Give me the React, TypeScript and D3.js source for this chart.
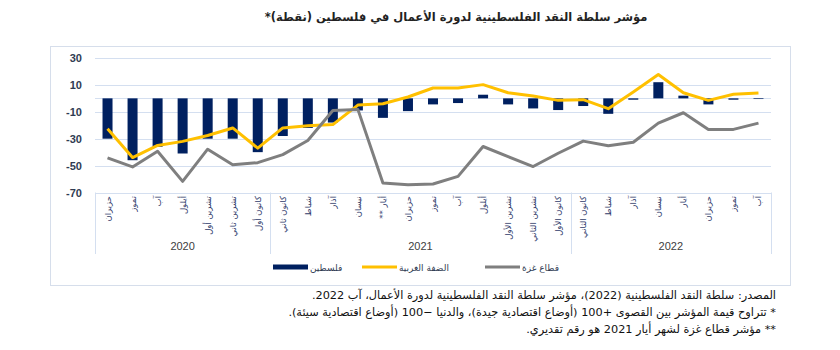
import React, { useRef, useEffect } from 'react';
import * as d3 from 'd3';

// month labels (Levantine names as printed in the source)
const months = [
  'حزيران', 'تموز', 'آب', 'أيلول', 'تشرين أول', 'تشرين ثاني', 'كانون أول',
  'كانون ثاني', 'شباط', 'آذار', 'نيسان', 'أيار **', 'حزيران', 'تموز', 'آب', 'أيلول', 'تشرين الأول', 'تشرين الثاني', 'كانون الأول',
  'كانون الثاني', 'شباط', 'آذار', 'نيسان', 'أيار', 'حزيران', 'تموز', 'آب',
];
const years = ['2020', '2021', '2022'];
const yearCounts = [7, 12, 8];

const palestine = [-30, -46, -36, -41, -30, -30, -40, -28, -22, -18, -9, -14.5, -9.5, -4.5, -3.5, 2.7, -4.5, -7.5, -8.7, -5.7, -11.5, -1, 12, 2, -4.5, -1, -0.5];
const westBank = [-22.6, -44, -35, -32, -27.6, -22, -37, -22, -20.4, -19.5, -5, -4, 1, 7.7, 7.7, 10.2, 4.2, 1.7, -1.5, -1, -7.7, 4.7, 17.7, 4.2, -1.5, 3, 4];
const gaza = [-44.3, -51, -39.3, -61.7, -37.8, -49.3, -47.8, -41.8, -31.3, -9, -8.2, -63, -64.2, -63.7, -58, -35.8, -43.3, -50.7, -40.8, -31.8, -35.3, -32.6, -18.4, -10.7, -23.1, -23.1, -18.4];

const yTicks = [30, 10, -10, -30, -50, -70];

const title = 'مؤشر سلطة النقد الفلسطينية لدورة الأعمال في فلسطين (نقطة)*';
const notes = [
  'المصدر: سلطة النقد الفلسطينية (2022)، مؤشر سلطة النقد الفلسطينية لدورة الأعمال، آب 2022.',
  '* تتراوح قيمة المؤشر بين القصوى +100 (أوضاع اقتصادية جيدة)، والدنيا −100 (أوضاع اقتصادية سيئة).',
  '** مؤشر قطاع غزة لشهر أيار 2021 هو رقم تقديري.',
];
const legendItems = [
  { label: 'فلسطين', color: '#002060', kind: 'bar' },
  { label: 'الضفة الغربية', color: '#FFC000', kind: 'line' },
  { label: 'قطاع غزة', color: '#7F7F7F', kind: 'line' },
];

const font = '"DejaVu Sans", sans-serif';

const App = () => {
  const ref = useRef<SVGSVGElement>(null);

  useEffect(() => {
    const svg = d3.select(ref.current);
    svg.selectAll('*').remove();

    const x0 = 95, x1 = 771;
    const x = d3.scaleBand<number>().domain(d3.range(months.length)).range([x0, x1]);
    const y = d3.scaleLinear().domain([-70, 30]).range([192.5, 58]);

    // chart border
    svg.append('rect').attr('x', 50.5).attr('y', 46.5).attr('width', 740).attr('height', 239)
      .attr('fill', 'none').attr('stroke', '#D6DEEB');

    svg.append('text').attr('x', 456).attr('y', 21).attr('text-anchor', 'middle').attr('direction', 'rtl')
      .attr('font-family', font).attr('font-size', 11.5).attr('font-weight', 'bold').attr('fill', '#222')
      .text(title);

    // gridlines
    svg.append('g').selectAll('line').data([...yTicks, 0]).join('line')
      .attr('x1', x0).attr('x2', x1)
      .attr('y1', d => Math.round(y(d)) + 0.5).attr('y2', d => Math.round(y(d)) + 0.5)
      .attr('stroke', '#D4DFF0').attr('stroke-width', 1);

    svg.append('g').selectAll('text').data(yTicks).join('text')
      .attr('x', 82).attr('y', d => y(d) + 4).attr('text-anchor', 'end')
      .attr('font-family', '"Liberation Sans", sans-serif').attr('font-size', 11).attr('font-weight', 'bold')
      .attr('fill', '#2F3B52').text(d => d);

    // category separators
    let acc = 0;
    const bounds = [0];
    yearCounts.forEach(c => { acc += c; bounds.push(acc); });
    svg.append('g').selectAll('line').data(bounds).join('line')
      .attr('x1', d => Math.round(x0 + d * x.step()) + 0.5).attr('x2', d => Math.round(x0 + d * x.step()) + 0.5)
      .attr('y1', y(-70)).attr('y2', 254).attr('stroke', '#D4DFF0');

    svg.append('g').selectAll('text').data(years).join('text')
      .attr('x', (d, i) => x0 + (bounds[i] + bounds[i + 1]) / 2 * x.step())
      .attr('y', 250).attr('text-anchor', 'middle')
      .attr('font-family', '"Liberation Sans", sans-serif').attr('font-size', 11).attr('fill', '#404040')
      .text(d => d);

    svg.append('g').selectAll('text').data(months).join('text')
      .attr('transform', (d, i) => `translate(${x(i)! + x.bandwidth() / 2 + 3},196) rotate(-90)`)
      .attr('direction', 'rtl').attr('text-anchor', 'start')
      .attr('font-family', font).attr('font-size', 8.5).attr('fill', '#2F3B6B')
      .text(d => d);

    // bars
    const bw = 10;
    svg.append('g').selectAll('rect').data(palestine).join('rect')
      .attr('x', (d, i) => x(i)! + (x.bandwidth() - bw) / 2)
      .attr('y', d => y(Math.max(0, d)))
      .attr('width', bw)
      .attr('height', d => Math.abs(y(d) - y(0)))
      .attr('fill', '#002060');

    const line = d3.line<number>().x((d, i) => x(i)! + x.bandwidth() / 2).y(d => y(d));
    svg.append('path').datum(westBank).attr('fill', 'none').attr('stroke', '#FFC000')
      .attr('stroke-width', 3).attr('stroke-linejoin', 'round').attr('d', line);
    svg.append('path').datum(gaza).attr('fill', 'none').attr('stroke', '#7F7F7F')
      .attr('stroke-width', 3).attr('stroke-linejoin', 'round').attr('d', line);

    // legend
    const lx = [273, 362, 485];
    const lg = svg.append('g').selectAll('g').data(legendItems).join('g')
      .attr('transform', (d, i) => `translate(${lx[i]},267)`);
    lg.append('rect').attr('x', 0).attr('y', d => (d.kind === 'bar' ? -2.5 : -1.5))
      .attr('width', 35).attr('height', d => (d.kind === 'bar' ? 5 : 3)).attr('fill', d => d.color);
    lg.append('text').attr('x', 37).attr('y', 3.5).attr('text-anchor', 'end').attr('direction', 'rtl')
      .attr('font-family', font).attr('font-size', 9).attr('fill', '#2F3B52')
      .text(d => d.label);

    // footnotes, right aligned
    svg.append('g').selectAll('text').data(notes).join('text')
      .attr('x', 776).attr('y', (d, i) => 299 + i * 17)
      .attr('direction', 'rtl').attr('text-anchor', 'start')
      .attr('font-family', font).attr('font-size', 11.3).attr('fill', '#111')
      .text(d => d);
  }, []);

  return (
    <svg ref={ref} width={840} height={350} style={{ position: 'absolute', left: 0, top: 0, background: '#fff' }} />
  );
};

export default App;
